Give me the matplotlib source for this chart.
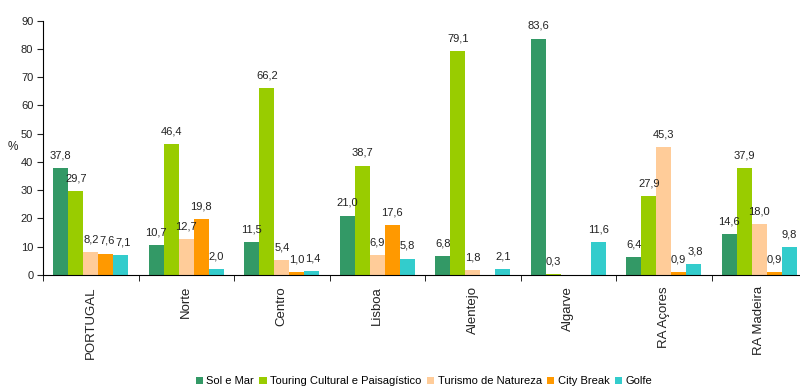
import matplotlib
matplotlib.use("Agg")
import matplotlib.pyplot as plt
import numpy as np

categories = ["PORTUGAL", "Norte", "Centro", "Lisboa", "Alentejo", "Algarve", "RA Açores", "RA Madeira"]
series_names = ["Sol e Mar", "Touring Cultural e Paisagístico", "Turismo de Natureza", "City Break", "Golfe"]
sol_mar = [37.8, 10.7, 11.5, 21.0, 6.8, 83.6, 6.4, 14.6]
touring = [29.7, 46.4, 66.2, 38.7, 79.1, 0.3, 27.9, 37.9]
natureza = [8.2, 12.7, 5.4, 6.9, 1.8, None, 45.3, 18.0]
city_break = [7.6, 19.8, 1.0, 17.6, None, None, 0.9, 0.9]
golfe = [7.1, 2.0, 1.4, 5.8, 2.1, 11.6, 3.8, 9.8]
colors = ["#339966", "#99CC00", "#FFCC99", "#FF9900", "#33CCCC"]

plt.rcParams['font.family'] = ['Liberation Sans', 'DejaVu Sans']

DPI = 100
fig = plt.figure(figsize=(8, 3.87), dpi=DPI)
ax = fig.add_axes([0.05375, 0.2894, 0.955, 0.6576])

series = [sol_mar, touring, natureza, city_break, golfe]
x = np.arange(len(categories))
w = 0.157
group_labels = [[] for _ in categories]
for i, (vals, name, c) in enumerate(zip(series, series_names, colors)):
    v = np.array([np.nan if a is None else a for a in vals], dtype=float)
    pos = x + (i - 2) * w
    ax.bar(pos, np.nan_to_num(v), width=w, color=c, label=name, linewidth=0)
    for g, (p, val) in enumerate(zip(pos, v)):
        if not np.isnan(val):
            t = ax.annotate(f"{val:.1f}".replace(".", ","), (p, val), xytext=(0, 5.5),
                            textcoords="offset points", ha="center", va="bottom",
                            fontsize=8, color="#222222")
            group_labels[g].append(t)

ax.set_xlim(-0.5, len(categories) - 0.5)
ax.set_ylim(0, 90)
ax.set_yticks(np.arange(0, 91, 10))
ax.tick_params(axis='y', direction='out', length=4, labelsize=8, colors='#222222', pad=3)
ax.set_xticks(x)
ax.set_xticklabels(categories, rotation=90, fontsize=9.5, color='#222222')
ax.tick_params(axis='x', which='major', length=0, pad=8)
ax.set_xticks(np.arange(-0.5, len(categories), 1), minor=True)
ax.tick_params(axis='x', which='minor', direction='out', length=4)
for s in ['top', 'right']:
    ax.spines[s].set_visible(False)
ax.spines['left'].set_color('#000000')
ax.spines['bottom'].set_color('#000000')

ax.text(-0.04, 0.503, "%", transform=ax.transAxes, fontsize=8.5, color='#222222', ha='center', va='center')

handles, labels = ax.get_legend_handles_labels()
fig.legend(handles, labels, loc='center', bbox_to_anchor=(0.53, 0.015), ncol=5, frameon=False,
           fontsize=8, handlelength=0.65, handleheight=0.65, handletextpad=0.3, columnspacing=0.5,
           borderaxespad=0)

# nudge crowded data labels apart, left to right within each group
fig.canvas.draw()
r = fig.canvas.get_renderer()
for labs in group_labels:
    prev = []
    for t in labs:
        bb = t.get_window_extent(r)
        shift = 0.0
        for pb in prev:
            if bb.y0 < pb.y1 - 1 and bb.y1 > pb.y0 + 1 and bb.x0 + shift < pb.x1 + 1:
                shift = max(shift, pb.x1 + 1 - bb.x0)
        if shift > 0:
            t.set_position((shift * 72 / DPI, 5.5))
            fig.canvas.draw()
            bb = t.get_window_extent(r)
        prev.append(bb)

fig.savefig("out.png", dpi=DPI)
